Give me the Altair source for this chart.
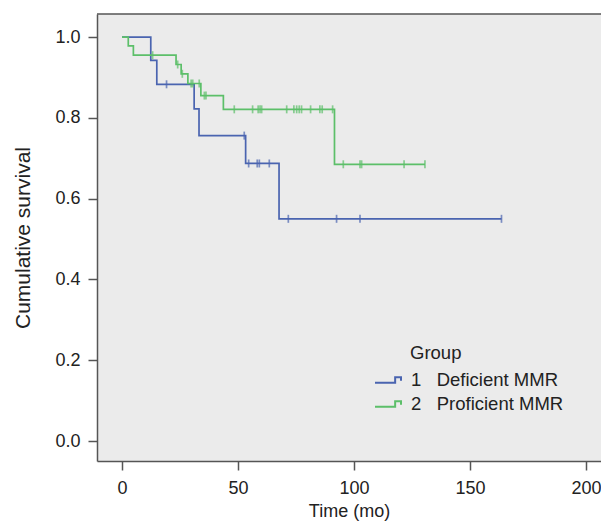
import altair as alt
import pandas as pd

# Kaplan-Meier step data
deficient_times = [0, 12.4, 15.0, 31.1, 33.2, 53.3, 67.7, 163.6]
deficient_surv = [1.0, 0.942, 0.883, 0.822, 0.756, 0.687, 0.550, 0.550]
deficient_cens_t = [19.2, 52.7, 54.6, 58.3, 59.2, 63.5, 71.7, 92.5, 102.6, 163.6]
deficient_cens_s = [0.883, 0.756, 0.687, 0.687, 0.687, 0.687, 0.550, 0.550, 0.550, 0.550]

proficient_times = [0, 2.7, 4.9, 23.3, 25.5, 28.4, 34.0, 43.7, 91.6, 130.6]
proficient_surv = [1.0, 0.978, 0.955, 0.932, 0.909, 0.885, 0.855, 0.821, 0.685, 0.685]
proficient_cens_t = [13.2, 24.0, 26.0, 29.8, 30.5, 33.3, 35.5, 36.2, 48.4, 56.3, 58.7,
                     59.5, 60.2, 71.0, 74.1, 75.3, 76.4, 77.4, 81.3, 85.3, 86.3, 90.8,
                     95.4, 102.6, 103.3, 121.6, 130.6]
proficient_cens_s = [0.955, 0.932, 0.909, 0.885, 0.885, 0.885, 0.855, 0.855] + [0.821] * 14 + [0.685] * 5

groups = ["1\u00a0\u00a0\u00a0Deficient MMR", "2\u00a0\u00a0\u00a0Proficient MMR"]
colors = ["#4A64B0", "#5CBF69"]
x_ticks = [0, 50, 100, 150, 200]
y_ticks = [0.0, 0.2, 0.4, 0.6, 0.8, 1.0]

steps = pd.concat([
    pd.DataFrame({"t": deficient_times, "s": deficient_surv, "g": groups[0]}),
    pd.DataFrame({"t": proficient_times, "s": proficient_surv, "g": groups[1]}),
])
cens = pd.concat([
    pd.DataFrame({"t": deficient_cens_t, "s": deficient_cens_s, "g": groups[0]}),
    pd.DataFrame({"t": proficient_cens_t, "s": proficient_cens_s, "g": groups[1]}),
])

FONT = "Liberation Sans"
W, H = 504, 447

xscale = alt.Scale(domain=[-10.78, 206.5], nice=False, zero=False)
yscale = alt.Scale(domain=[-0.0495, 1.057], nice=False, zero=False)
cscale = alt.Scale(domain=groups, range=colors)

step_path = "M-1,0.22L0.55,0.22L0.55,-0.22L1,-0.22L1,0.05"

lines = alt.Chart(steps).mark_line(interpolate="step-after", strokeWidth=1.7).encode(
    x=alt.X("t:Q", scale=xscale,
            axis=alt.Axis(title="Time (mo)", values=x_ticks, grid=False, tickSize=9,
                          labelPadding=9, titlePadding=5, labelFontSize=18, titleFontSize=18)),
    y=alt.Y("s:Q", scale=yscale,
            axis=alt.Axis(title="Cumulative survival", values=y_ticks, format=".1f",
                          grid=False, tickSize=9, labelPadding=8, titlePadding=21,
                          labelFontSize=18, titleFontSize=21)),
    color=alt.Color("g:N", scale=cscale,
                    legend=alt.Legend(title=None, orient="none", legendX=277, legendY=352,
                                      symbolType=step_path, symbolSize=676,
                                      symbolStrokeWidth=2, symbolFillColor="transparent",
                                      labelFont=FONT, labelFontSize=18.5, labelColor="#222",
                                      labelOffset=9, padding=0, rowPadding=0)),
)

ticks = alt.Chart(cens).mark_point(shape="M0,-1L0,1", size=64, strokeWidth=1.7, filled=False).encode(
    x=alt.X("t:Q", scale=xscale),
    y=alt.Y("s:Q", scale=yscale),
    color=alt.Color("g:N", scale=cscale, legend=None),
)

top = alt.Chart(pd.DataFrame({"a": [0]})).mark_rule(color="#555", strokeWidth=1.5).encode(
    x=alt.value(0), x2=alt.value(W), y=alt.value(0)
)

group_title = alt.Chart(pd.DataFrame({"label": ["Group"]})).mark_text(
    align="left", baseline="middle", font=FONT, fontSize=18.5, color="#222"
).encode(x=alt.value(313), y=alt.value(339), text="label:N")

chart = alt.layer(lines, ticks, top, group_title).properties(
    width=W, height=H,
    autosize=alt.AutoSizeParams(type="none"),
    padding={"left": 89, "top": 6, "right": 0, "bottom": 62},
).configure_view(
    fill="#EBEBEB", stroke=None
).configure_axis(
    labelFont=FONT, labelColor="#222",
    titleFont=FONT, titleColor="#222", titleFontWeight="normal",
    domainColor="#555", domainWidth=1.5, tickColor="#555", tickWidth=1.5,
)

chart.save("out.html", embed_options={"renderer": "svg", "actions": False})
